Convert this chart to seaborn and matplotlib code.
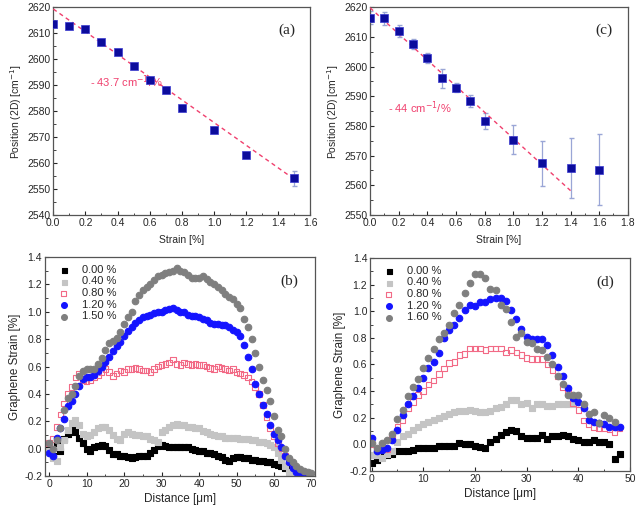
import numpy as np
import pandas as pd
import matplotlib
matplotlib.use("Agg")
import matplotlib.pyplot as plt
import seaborn as sns
from matplotlib.ticker import MultipleLocator

# ---- data: panel (a) ----
strain_a = [0.0, 0.1, 0.2, 0.3, 0.4, 0.5, 0.6, 0.7, 0.8, 1.0, 1.2, 1.5]
pos_a = [2613.6, 2612.8, 2611.5, 2606.5, 2602.7, 2597.4, 2592.0, 2588.0, 2581.2, 2572.8, 2563.0, 2554.2]
err_a = [0.4, 0.4, 0.5, 0.5, 0.5, 0.5, 0.5, 0.5, 0.5, 0.5, 0.6, 2.9]
fit_a = [2619.3, 2553.75]   # fitted line at strain 0 and 1.5
fit_a_x = [0.0, 1.5]

# ---- data: panel (c) ----
strain_c = [0.0, 0.1, 0.2, 0.3, 0.4, 0.5, 0.6, 0.7, 0.8, 1.0, 1.2, 1.4, 1.6]
pos_c = [2616.5, 2616.2, 2612.0, 2607.7, 2603.0, 2596.0, 2592.8, 2588.5, 2581.7, 2575.3, 2567.4, 2565.8, 2565.2]
err_c = [2.3, 2.2, 2.0, 1.7, 1.7, 3.2, 1.5, 2.0, 2.7, 4.9, 7.5, 10.0, 12.0]
fit_c = [2619.8, 2558.2]
fit_c_x = [0.0, 1.4]

# ---- data: panel (b) graphene strain profiles ----
dist_b = list(range(0, 71))
b_000 = [0.03, -0.05, 0.04, -0.02, 0.07, 0.11, 0.14, 0.12, 0.08, 0.04, 0.00, -0.02, 0.01, 0.02, 0.03, 0.02,
         -0.01, -0.04, -0.04, -0.05, -0.05, -0.06, -0.07, -0.06, -0.05, -0.05, -0.05, -0.03, -0.01, 0.02, 0.03,
         0.02, 0.01, 0.01, 0.01, 0.01, 0.01, 0.01, 0.00, -0.01, -0.02, -0.02, -0.03, -0.03, -0.04, -0.05, -0.06,
         -0.08, -0.09, -0.07, -0.06, -0.06, -0.07, -0.07, -0.08, -0.08, -0.09, -0.09, -0.10, -0.10, -0.11, -0.12,
         -0.13, -0.14, -0.15]
b_040 = [-0.02, -0.07, -0.09, 0.01, 0.06, 0.14, 0.19, 0.21, 0.17, 0.11, 0.09, 0.10, 0.12, 0.15, 0.16, 0.16,
         0.14, 0.10, 0.07, 0.06, 0.11, 0.12, 0.11, 0.10, 0.10, 0.09, 0.09, 0.07, 0.06, 0.05, 0.12, 0.14, 0.16,
         0.17, 0.18, 0.17, 0.17, 0.16, 0.16, 0.15, 0.15, 0.13, 0.12, 0.11, 0.10, 0.09, 0.09, 0.08, 0.08, 0.08,
         0.08, 0.07, 0.07, 0.07, 0.06, 0.06, 0.05, 0.05, 0.04, 0.03, 0.01, -0.03, -0.08, -0.13, -0.17, -0.20]
b_080 = [0.04, 0.07, 0.16, 0.25, 0.33, 0.40, 0.45, 0.52, 0.55, 0.50, 0.49, 0.50, 0.52, 0.54, 0.56, 0.58,
         0.56, 0.53, 0.55, 0.57, 0.56, 0.58, 0.58, 0.59, 0.58, 0.57, 0.57, 0.56, 0.58, 0.60, 0.61, 0.62, 0.63,
         0.65, 0.62, 0.61, 0.63, 0.62, 0.61, 0.62, 0.61, 0.61, 0.60, 0.59, 0.58, 0.60, 0.59, 0.58, 0.57, 0.58,
         0.56, 0.55, 0.54, 0.52, 0.49, 0.45, 0.40, 0.32, 0.23, 0.15, 0.09, 0.04, 0.00, -0.05, -0.09, -0.12,
         -0.15, -0.18, -0.20]
b_120 = [-0.03, -0.05, 0.08, 0.15, 0.22, 0.31, 0.35, 0.40, 0.46, 0.51, 0.52, 0.52, 0.54, 0.57, 0.60, 0.63,
         0.67, 0.71, 0.75, 0.78, 0.82, 0.86, 0.89, 0.92, 0.94, 0.96, 0.97, 0.98, 0.99, 1.00, 1.00, 1.01, 1.02,
         1.03, 1.01, 1.00, 1.00, 0.98, 0.97, 0.97, 0.96, 0.95, 0.94, 0.92, 0.91, 0.91, 0.90, 0.90, 0.89, 0.87,
         0.85, 0.82, 0.76, 0.67, 0.58, 0.47, 0.40, 0.32, 0.25, 0.17, 0.11, 0.06, 0.01, -0.05, -0.10, -0.14,
         -0.17, -0.19, -0.20]
b_150 = [0.04, 0.00, 0.06, 0.15, 0.28, 0.37, 0.40, 0.46, 0.53, 0.57, 0.58, 0.58, 0.58, 0.62, 0.66, 0.72,
         0.77, 0.79, 0.81, 0.85, 0.91, 0.96, 1.00, 1.08, 1.12, 1.16, 1.18, 1.20, 1.23, 1.26, 1.27, 1.28, 1.29,
         1.30, 1.32, 1.30, 1.29, 1.27, 1.25, 1.25, 1.25, 1.26, 1.24, 1.22, 1.20, 1.18, 1.16, 1.13, 1.11, 1.09,
         1.06, 1.03, 0.95, 0.89, 0.80, 0.70, 0.60, 0.50, 0.43, 0.35, 0.24, 0.14, 0.09, 0.00, -0.07, -0.10,
         -0.13, -0.15, -0.16, -0.17, -0.18]
labels_b = ["0.00 %", "0.40 %", "0.80 %", "1.20 %", "1.50 %"]

# ---- data: panel (d) ----
dist_d = list(range(0, 49))
d_000 = [-0.14, -0.12, -0.09, -0.08, -0.07, -0.05, -0.05, -0.05, -0.04, -0.03, -0.03, -0.03, -0.03, -0.01,
         -0.01, -0.01, -0.01, 0.01, 0.00, 0.00, -0.01, -0.02, -0.03, 0.02, 0.04, 0.07, 0.09, 0.11, 0.10, 0.06,
         0.05, 0.05, 0.05, 0.07, 0.04, 0.06, 0.06, 0.07, 0.06, 0.04, 0.03, 0.02, 0.02, 0.03, 0.02, 0.02, 0.00,
         -0.11, -0.07]
d_040 = [-0.08, -0.08, -0.10, -0.07, -0.05, 0.02, 0.06, 0.08, 0.11, 0.13, 0.15, 0.17, 0.18, 0.20, 0.21, 0.23,
         0.24, 0.25, 0.25, 0.26, 0.25, 0.24, 0.24, 0.25, 0.27, 0.28, 0.30, 0.33, 0.33, 0.30, 0.31, 0.27, 0.30,
         0.30, 0.29, 0.29, 0.30, 0.30, 0.30, 0.30]
d_080 = [0.00, -0.04, -0.04, -0.04, 0.05, 0.13, 0.18, 0.27, 0.32, 0.37, 0.40, 0.45, 0.48, 0.53, 0.57, 0.61,
         0.62, 0.67, 0.68, 0.72, 0.72, 0.72, 0.71, 0.72, 0.72, 0.72, 0.69, 0.71, 0.69, 0.67, 0.65, 0.64, 0.64,
         0.64, 0.60, 0.56, 0.51, 0.43, 0.39, 0.31, 0.26, 0.18, 0.15, 0.13, 0.12, 0.12, 0.11, 0.09, 0.12]
d_120 = [0.05, -0.05, -0.04, -0.03, 0.03, 0.11, 0.22, 0.30, 0.36, 0.42, 0.50, 0.57, 0.62, 0.69, 0.80, 0.86,
         0.90, 0.95, 1.01, 1.05, 1.04, 1.07, 1.07, 1.09, 1.10, 1.10, 1.08, 1.01, 0.94, 0.87, 0.81, 0.79, 0.79,
         0.79, 0.75, 0.67, 0.58, 0.51, 0.42, 0.35, 0.32, 0.27, 0.18, 0.17, 0.16, 0.15, 0.13, 0.13, 0.13]
d_160 = [0.01, -0.03, 0.01, 0.03, 0.08, 0.19, 0.26, 0.36, 0.43, 0.49, 0.57, 0.65, 0.72, 0.79, 0.84, 0.90,
         0.99, 1.05, 1.14, 1.21, 1.28, 1.28, 1.25, 1.17, 1.16, 1.05, 1.02, 0.92, 0.81, 0.84, 0.77, 0.76, 0.72,
         0.71, 0.66, 0.60, 0.51, 0.45, 0.37, 0.37, 0.37, 0.30, 0.23, 0.24, 0.16, 0.22, 0.20, 0.17]
labels_d = ["0.00 %", "0.40 %", "0.80 %", "1.20 %", "1.60 %"]

sns.set_style("ticks")
plt.rcParams['font.family'] = ['Liberation Sans', 'DejaVu Sans']
plt.rcParams['xtick.direction'] = 'in'
plt.rcParams['ytick.direction'] = 'in'
plt.rcParams['axes.edgecolor'] = '#555555'
plt.rcParams['axes.linewidth'] = 0.9

fig = plt.figure(figsize=(6.38, 5.13), dpi=100)
ax_a = fig.add_axes([0.0835, 0.581, 0.403, 0.405])
ax_c = fig.add_axes([0.580, 0.581, 0.404, 0.405])
ax_b = fig.add_axes([0.0705, 0.072, 0.423, 0.427])
ax_d = fig.add_axes([0.580, 0.082, 0.4075, 0.415])

navy = '#0c0c9c'
errc = '#9aa6d6'
fitc = '#f0406e'


def raman_panel(ax, x, y, e, fx, fy, slope_txt, tx, ty, tag):
    ax.errorbar(x, y, yerr=e, fmt='none', ecolor=errc, elinewidth=0.9, capsize=1.8, zorder=2)
    sns.lineplot(x=fx, y=fy, ax=ax, color=fitc, linestyle=(0, (3, 2.5)), linewidth=1.0, zorder=3)
    sns.scatterplot(x=x, y=y, ax=ax, marker='s', s=36, color=navy, edgecolor='#3a3ad0', linewidth=0.5, zorder=4)
    ax.text(tx, ty, slope_txt, color=fitc, fontsize=8, va='center')
    ax.text(0.94, 0.92, tag, transform=ax.transAxes, fontsize=11, family='Liberation Serif', ha='right', va='top')
    ax.set_xlabel('Strain [%]', fontsize=7.5, labelpad=5)
    ax.set_ylabel('Position (2D) [cm$^{-1}$]', fontsize=7.5, labelpad=2)
    ax.xaxis.set_major_locator(MultipleLocator(0.2))
    ax.xaxis.set_minor_locator(MultipleLocator(0.1))
    ax.yaxis.set_major_locator(MultipleLocator(10))
    ax.yaxis.set_minor_locator(MultipleLocator(5))
    ax.tick_params(labelsize=7.5, length=3, pad=2)
    ax.tick_params(which='minor', length=1.8)


raman_panel(ax_a, strain_a, pos_a, err_a, fit_a_x, fit_a, '- 43.7 cm$^{-1}$/%', 0.23, 2591.4, '(a)')
ax_a.set_xlim(0, 1.6)
ax_a.set_ylim(2540, 2620)
raman_panel(ax_c, strain_c, pos_c, err_c, fit_c_x, fit_c, '- 44 cm$^{-1}$/%', 0.125, 2586, '(c)')
ax_c.set_xlim(0, 1.8)
ax_c.set_ylim(2550, 2620)

styles = [
    dict(marker='s', color='black', edgecolor='black', s=16),
    dict(marker='s', color='#c4c4c4', edgecolor='#c4c4c4', s=16),
    dict(marker='s', color='none', edgecolor='#f26a86', s=16),
    dict(marker='o', color='#1414ff', edgecolor='#1414ff', s=22),
    dict(marker='o', color='#7f7f7f', edgecolor='#7f7f7f', s=22),
]


def profile_panel(ax, dist, series, labels, tag):
    for ys, lab, st in zip(series, labels, styles):
        sns.scatterplot(x=dist[:len(ys)], y=ys, ax=ax, label=lab, linewidth=0.8, **st)
    leg = ax.legend(loc='upper left', frameon=False, fontsize=8, handletextpad=0.6,
                    labelspacing=0.15, borderaxespad=0.3, markerscale=0.9)
    ax.text(0.94, 0.92, tag, transform=ax.transAxes, fontsize=11, family='Liberation Serif', ha='right', va='top')
    ax.set_xlabel('Distance [\u03bcm]', fontsize=8.5, labelpad=3)
    ax.set_ylabel('Graphene Strain [%]', fontsize=8.5, labelpad=2)
    ax.xaxis.set_major_locator(MultipleLocator(10))
    ax.xaxis.set_minor_locator(MultipleLocator(5))
    ax.yaxis.set_major_locator(MultipleLocator(0.2))
    ax.yaxis.set_minor_locator(MultipleLocator(0.1))
    ax.set_ylim(-0.2, 1.4)
    ax.set_yticklabels([f'{v:.1f}' for v in ax.get_yticks()])
    ax.tick_params(labelsize=7.5, length=3, pad=2)
    ax.tick_params(which='minor', length=1.8)


profile_panel(ax_b, dist_b, [b_000, b_040, b_080, b_120, b_150], labels_b, '(b)')
ax_b.set_xlim(-1.1, 70.9)
profile_panel(ax_d, dist_d, [d_000, d_040, d_080, d_120, d_160], labels_d, '(d)')
ax_d.set_xlim(-0.3, 50)

fig.savefig('out.png', dpi=100)
